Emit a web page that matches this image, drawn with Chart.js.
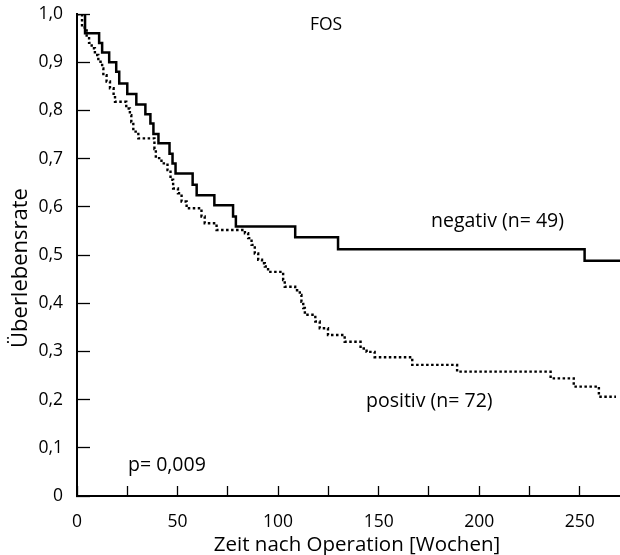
<!DOCTYPE html>
<html><head><meta charset="utf-8">
<script src="https://cdn.jsdelivr.net/npm/chart.js@4"></script>
<style>html,body{margin:0;padding:0;background:#fff}canvas{display:block}</style>
</head><body>
<canvas id="c" width="620" height="555"></canvas>
<script>
// Kaplan-Meier curves: event times (weeks) and survival values after each step
const negTimes    = [0, 4, 11, 12.5, 16, 19.5, 21, 25, 29.5, 34, 36.5, 38, 40.5, 46, 47.5, 49, 57.5, 59.5, 68.3, 77.6, 79, 108.5, 129.8, 252.4, 270];
const negSurvival = [1, 0.96, 0.94, 0.92, 0.90, 0.88, 0.856, 0.834, 0.812, 0.792, 0.773, 0.751, 0.732, 0.710, 0.690, 0.669, 0.646, 0.624, 0.603, 0.58, 0.559, 0.537, 0.512, 0.488, 0.488];

const posTimes    = [0, 2.5, 4.8, 6, 7.3, 8.9, 10.6, 12.5, 13.1, 14.7, 16.4, 18.2, 18.9, 24.5, 26.3, 27, 28, 30.5, 38.5, 39.2, 42, 45, 46.5, 47.8, 50.2, 52, 54.5, 61.9, 63.5, 69.4, 83.5, 85.1, 86.8, 88.4, 90.1, 92, 93.4, 95, 102.5, 103.3, 108.5, 110.8, 111.6, 112.5, 113.3, 118.5, 120.7, 124.8, 133.1, 141, 144, 148, 166.7, 189, 235.5, 247, 259.5, 268];
const posSurvival = [1, 0.972, 0.950, 0.940, 0.929, 0.915, 0.901, 0.887, 0.873, 0.860, 0.846, 0.832, 0.818, 0.804, 0.790, 0.776, 0.756, 0.742, 0.720, 0.701, 0.690, 0.676, 0.656, 0.638, 0.628, 0.611, 0.597, 0.580, 0.566, 0.552, 0.545, 0.535, 0.521, 0.503, 0.490, 0.483, 0.476, 0.465, 0.448, 0.434, 0.427, 0.417, 0.403, 0.390, 0.376, 0.362, 0.348, 0.334, 0.320, 0.306, 0.299, 0.288, 0.272, 0.258, 0.244, 0.227, 0.206, 0.206];

const xTickValues = [0, 25, 50, 75, 100, 125, 150, 175, 200, 225, 250];
const xTickLabels = {0:'0', 50:'50', 100:'100', 150:'150', 200:'200', 250:'250'};
const yTickLabels = ['0','0,1','0,2','0,3','0,4','0,5','0,6','0,7','0,8','0,9','1,0'];

const FONT = '"Open Sans", "Noto Sans", sans-serif';

function toPoints(ts, vs){ return ts.map((t,i)=>({x:t, y:vs[i]})); }

const textPlugin = {
  id: 'texts',
  afterDraw(chart){
    const ctx = chart.ctx;
    ctx.save();
    ctx.fillStyle = '#000';
    ctx.textBaseline = 'alphabetic';
    ctx.font = '17.5px ' + FONT;
    ctx.textAlign = 'center';
    ctx.fillText('FOS', 326, 30);
    ctx.font = '19.5px ' + FONT;
    ctx.textAlign = 'left';
    ctx.fillText('negativ (n= 49)', 431, 227);
    ctx.fillText('positiv (n= 72)', 366, 407);
    ctx.fillText('p= 0,009', 128, 471);
    ctx.font = '20.5px ' + FONT;
    ctx.textAlign = 'center';
    ctx.fillText('Zeit nach Operation [Wochen]', 357, 551);
    ctx.font = '22px ' + FONT;
    ctx.translate(27, 268);
    ctx.rotate(-Math.PI/2);
    ctx.fillText('Überlebensrate', 0, 0);
    ctx.restore();
  }
};

new Chart(document.getElementById('c'), {
  type: 'line',
  data: {
    datasets: [
      { label: 'negativ (n= 49)', data: toPoints(negTimes, negSurvival), stepped: 'before',
        borderColor: '#000', borderWidth: 2.5, pointRadius: 0, fill: false },
      { label: 'positiv (n= 72)', data: toPoints(posTimes, posSurvival), stepped: 'before',
        borderColor: '#000', borderWidth: 2.4, borderDash: [2.5, 2.5], borderCapStyle: 'butt',
        pointRadius: 0, fill: false }
    ]
  },
  options: {
    responsive: false,
    animation: false,
    devicePixelRatio: 1,
    layout: { padding: { top: 14, right: 0, bottom: 0, left: 0 } },
    plugins: { legend: { display: false }, tooltip: { enabled: false }, title: { display: false } },
    scales: {
      x: {
        type: 'linear', min: 0, max: 270,
        afterBuildTicks(s){ s.ticks = xTickValues.map(v => ({value: v})); },
        afterFit(s){ s.height = 59; s.paddingLeft = 0; s.paddingRight = 0; },
        border: { display: true, color: '#000', width: 2 },
        grid: { drawOnChartArea: false, drawTicks: true, tickLength: -10, color: '#000', tickWidth: 1.3 },
        ticks: { autoSkip: false, maxRotation: 0, padding: 26, color: '#000',
          font: { family: FONT, size: 17.5 },
          callback: (v) => (v in xTickLabels) ? xTickLabels[v] : '' }
      },
      y: {
        type: 'linear', min: 0, max: 1,
        afterFit(s){ s.width = 77; s.paddingTop = 0; s.paddingBottom = 0; },
        border: { display: true, color: '#000', width: 2 },
        grid: { drawOnChartArea: false, drawTicks: true, tickLength: -13, color: '#000', tickWidth: 1.3 },
        ticks: { stepSize: 0.1, autoSkip: false, padding: 27, color: '#000',
          font: { family: FONT, size: 17.5 },
          callback: (v, i) => yTickLabels[i] }
      }
    }
  },
  plugins: [textPlugin]
});
</script>
</body></html>
